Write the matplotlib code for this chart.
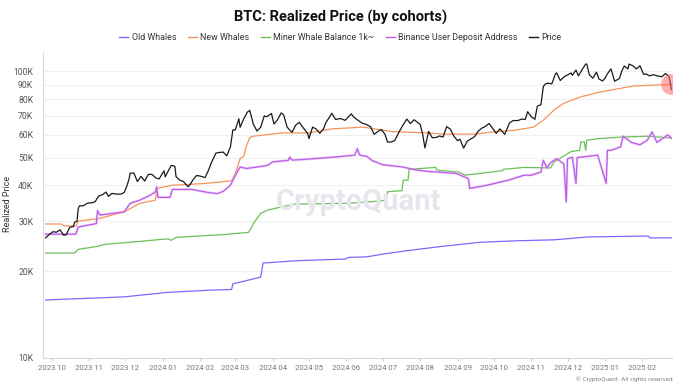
import pandas as pd
import matplotlib
matplotlib.use("Agg")
import matplotlib.pyplot as plt
import matplotlib.dates as mdates
from matplotlib.ticker import NullLocator

plt.rcParams['font.family'] = ['Roboto', 'DejaVu Sans']

# ---- data ----
price_dates = [
    "2023-09-26", "2023-09-29", "2023-10-02", "2023-10-05", "2023-10-08", "2023-10-11", "2023-10-13",
    "2023-10-16", "2023-10-19", "2023-10-20", "2023-10-22", "2023-10-23", "2023-10-24", "2023-10-27",
    "2023-10-31", "2023-11-03", "2023-11-06", "2023-11-09", "2023-11-12", "2023-11-15", "2023-11-17",
    "2023-11-20", "2023-11-23", "2023-11-27", "2023-11-30", "2023-12-02", "2023-12-04", "2023-12-05",
    "2023-12-08", "2023-12-11", "2023-12-14", "2023-12-17", "2023-12-20", "2023-12-23", "2023-12-26",
    "2023-12-29", "2024-01-02", "2024-01-03", "2024-01-08", "2024-01-11", "2024-01-12", "2024-01-15",
    "2024-01-18", "2024-01-22", "2024-01-23", "2024-01-26", "2024-01-29", "2024-02-01", "2024-02-05",
    "2024-02-08", "2024-02-10", "2024-02-14", "2024-02-17", "2024-02-20", "2024-02-23", "2024-02-26",
    "2024-02-28", "2024-03-01", "2024-03-04", "2024-03-05", "2024-03-08", "2024-03-11", "2024-03-13",
    "2024-03-16", "2024-03-19", "2024-03-22", "2024-03-25", "2024-03-27", "2024-03-31", "2024-04-02",
    "2024-04-05", "2024-04-08", "2024-04-10", "2024-04-13", "2024-04-17", "2024-04-20", "2024-04-23",
    "2024-04-26", "2024-04-30", "2024-05-01", "2024-05-04", "2024-05-07", "2024-05-10", "2024-05-13",
    "2024-05-15", "2024-05-20", "2024-05-23", "2024-05-27", "2024-05-31", "2024-06-05", "2024-06-07",
    "2024-06-11", "2024-06-14", "2024-06-18", "2024-06-21", "2024-06-24", "2024-06-27", "2024-06-30",
    "2024-07-03", "2024-07-05", "2024-07-08", "2024-07-11", "2024-07-14", "2024-07-17", "2024-07-21",
    "2024-07-24", "2024-07-27", "2024-07-29", "2024-08-01", "2024-08-03", "2024-08-05", "2024-08-08",
    "2024-08-11", "2024-08-14", "2024-08-17", "2024-08-20", "2024-08-23", "2024-08-26", "2024-08-29",
    "2024-09-01", "2024-09-03", "2024-09-06", "2024-09-09", "2024-09-12", "2024-09-15", "2024-09-18",
    "2024-09-21", "2024-09-24", "2024-09-27", "2024-09-30", "2024-10-03", "2024-10-06", "2024-10-10",
    "2024-10-14", "2024-10-17", "2024-10-21", "2024-10-24", "2024-10-27", "2024-10-29", "2024-11-01",
    "2024-11-04", "2024-11-06", "2024-11-09", "2024-11-11", "2024-11-13", "2024-11-15", "2024-11-18",
    "2024-11-21", "2024-11-22", "2024-11-25", "2024-11-28", "2024-12-01", "2024-12-04", "2024-12-05",
    "2024-12-08", "2024-12-10", "2024-12-13", "2024-12-16", "2024-12-17", "2024-12-19", "2024-12-22",
    "2024-12-25", "2024-12-27", "2024-12-30", "2025-01-01", "2025-01-03", "2025-01-06", "2025-01-09",
    "2025-01-13", "2025-01-15", "2025-01-17", "2025-01-20", "2025-01-21", "2025-01-24", "2025-01-27",
    "2025-01-30", "2025-02-02", "2025-02-04", "2025-02-07", "2025-02-10", "2025-02-13", "2025-02-17",
    "2025-02-20", "2025-02-23", "2025-02-24", "2025-02-25",
]
price_values = [
    26220, 26910, 27530, 27430, 27940, 26760, 26860,
    28520, 28720, 29680, 29990, 33090, 33920, 33920,
    34670, 34730, 35050, 36700, 37070, 37880, 36600,
    37480, 37290, 37250, 37720, 39460, 41980, 44080,
    44200, 41240, 43020, 41380, 43650, 43720, 42520,
    42100, 44950, 42850, 46970, 46630, 42850, 41730,
    41270, 39540, 39900, 41820, 43300, 43080, 42580,
    45290, 47770, 51840, 52120, 52270, 50730, 54520,
    62500, 62440, 68330, 63800, 68300, 72100, 73100,
    65300, 61900, 63800, 69950, 69450, 71300, 65500,
    67840, 71630, 70600, 63800, 61280, 64930, 66400,
    63750, 60640, 58250, 63900, 62890, 60790, 62900,
    66250, 71450, 67930, 68500, 67490, 71080, 69350,
    67320, 66010, 65150, 64100, 60280, 61680, 62670,
    60200, 56660, 56700, 57340, 60790, 64100, 68170,
    65780, 67810, 66820, 65350, 60690, 54020, 61710,
    58710, 58740, 59480, 59010, 64180, 62880, 59370,
    57300, 57970, 53960, 57050, 58130, 59130, 61760,
    63350, 64260, 65790, 63330, 60750, 63000, 60280,
    66080, 67370, 67370, 68170, 67940, 72340, 69480,
    68010, 75640, 76510, 88700, 90580, 91060, 90460,
    98010, 98920, 93000, 95640, 97280, 98800, 96980,
    101180, 96500, 101400, 106100, 106140, 97490, 94700,
    99430, 94170, 92640, 94590, 98100, 102100, 92460,
    94520, 100500, 104460, 102010, 106150, 104710, 102080,
    104700, 97690, 98000, 96540, 97440, 96600, 95770,
    98350, 96130, 91430, 86500,
]

new_whale_dates = [
    "2023-09-26", "2023-10-09", "2023-10-11", "2023-10-21", "2023-10-23", "2023-11-09", "2023-11-30",
    "2023-12-13", "2023-12-26", "2023-12-27", "2024-01-09", "2024-02-05", "2024-02-27", "2024-03-01",
    "2024-03-05", "2024-03-08", "2024-03-10", "2024-03-13", "2024-03-16", "2024-04-09", "2024-05-01",
    "2024-05-20", "2024-06-15", "2024-07-09", "2024-08-06", "2024-08-20", "2024-09-16", "2024-09-30",
    "2024-10-18", "2024-11-03", "2024-11-11", "2024-11-20", "2024-11-28", "2024-12-12", "2024-12-26",
    "2025-01-09", "2025-01-25", "2025-02-25",
]
new_whale_values = [
    29300, 29300, 28900, 28800, 30000, 30600, 32300,
    34600, 35500, 39000, 40000, 40600, 41500, 44000,
    49600, 50500, 54500, 58800, 59400, 61000, 61000,
    63000, 63900, 61600, 61000, 60400, 60400, 61500,
    62300, 63900, 67600, 73400, 77500, 81500, 84400,
    86600, 89000, 90100,
]

miner_dates = [
    "2023-09-26", "2023-10-20", "2023-10-23", "2023-11-06", "2023-11-15", "2023-12-10", "2024-01-05",
    "2024-01-08", "2024-01-12", "2024-02-06", "2024-02-20", "2024-03-12", "2024-03-14", "2024-03-16",
    "2024-03-22", "2024-03-28", "2024-04-08", "2024-04-19", "2024-05-31", "2024-06-20", "2024-07-04",
    "2024-07-05", "2024-07-17", "2024-07-18", "2024-07-22", "2024-07-23", "2024-08-14", "2024-08-15",
    "2024-09-02", "2024-09-07", "2024-09-25", "2024-10-08", "2024-10-09", "2024-10-26", "2024-11-17",
    "2024-11-20", "2024-12-04", "2024-12-11", "2024-12-12", "2024-12-15", "2024-12-16", "2024-12-17",
    "2024-12-26", "2025-01-15", "2025-02-06", "2025-02-25",
]
miner_values = [
    23200, 23200, 23900, 24400, 24900, 25400, 26000,
    25700, 26300, 26700, 26900, 27400, 28300, 29400,
    31900, 32800, 33600, 34400, 34600, 35000, 35500,
    38000, 38300, 41700, 41700, 45500, 46200, 45200,
    44500, 43400, 44300, 45000, 45500, 46200, 46000,
    48300, 52500, 53000, 56700, 56700, 53000, 57500,
    58200, 59000, 59400, 58500,
]

old_whale_dates = [
    "2023-09-26", "2023-11-30", "2024-01-05", "2024-02-08", "2024-02-27", "2024-02-28", "2024-03-22",
    "2024-03-24", "2024-04-20", "2024-05-31", "2024-06-03", "2024-06-18", "2024-07-01", "2024-07-20",
    "2024-08-20", "2024-09-20", "2024-10-20", "2024-11-20", "2024-12-18", "2025-02-06", "2025-02-07",
    "2025-02-25",
]
old_whale_values = [
    15900, 16300, 16900, 17200, 17300, 18100, 19100,
    21400, 21800, 22100, 22400, 22500, 23000, 23600,
    24500, 25300, 25600, 25800, 26400, 26600, 26200,
    26200,
]

binance_dates = [
    "2023-09-26", "2023-10-21", "2023-10-23", "2023-11-07", "2023-11-08", "2023-11-10", "2023-11-30",
    "2023-12-05", "2023-12-13", "2023-12-22", "2023-12-26", "2023-12-27", "2023-12-28", "2024-01-07",
    "2024-01-09", "2024-01-25", "2024-02-07", "2024-02-15", "2024-02-20", "2024-02-26", "2024-02-28",
    "2024-03-05", "2024-03-10", "2024-03-20", "2024-03-28", "2024-04-01", "2024-04-14", "2024-04-15",
    "2024-04-17", "2024-04-25", "2024-05-22", "2024-06-08", "2024-06-10", "2024-06-12", "2024-06-18",
    "2024-06-22", "2024-07-01", "2024-07-17", "2024-07-27", "2024-08-06", "2024-08-31", "2024-09-10",
    "2024-09-11", "2024-09-25", "2024-10-14", "2024-10-26", "2024-11-01", "2024-11-09", "2024-11-11",
    "2024-11-14", "2024-11-17", "2024-11-22", "2024-11-28", "2024-11-30", "2024-12-01", "2024-12-05",
    "2024-12-08", "2024-12-09", "2024-12-12", "2024-12-26", "2025-01-02", "2025-01-03", "2025-01-06",
    "2025-01-14", "2025-01-16", "2025-01-23", "2025-01-30", "2025-02-05", "2025-02-09", "2025-02-13",
    "2025-02-22", "2025-02-25",
]
binance_values = [
    27000, 27000, 28600, 29400, 32600, 31500, 32300,
    34600, 35500, 37000, 38000, 39500, 36300, 36300,
    38700, 38700, 37800, 37400, 38100, 40000, 41700,
    46400, 45800, 46400, 47000, 48300, 48900, 50200,
    49000, 49200, 50200, 51000, 53700, 51000, 50500,
    48900, 47200, 46400, 45400, 44800, 44000, 42200,
    39000, 40000, 41800, 43400, 43400, 44500, 48900,
    46000, 48000, 49600, 47500, 35000, 49500, 50200,
    40600, 50000, 50200, 51000, 40600, 53000, 53000,
    54500, 59400, 56500, 55400, 57500, 61500, 56500,
    60000, 58500,
]

month_ticks = pd.date_range("2023-10-01", "2025-02-01", freq="MS")
y_ticks = [10000, 20000, 30000, 40000, 50000, 60000, 70000, 80000, 90000, 100000]
y_labels = ["10K", "20K", "30K", "40K", "50K", "60K", "70K", "80K", "90K", "100K"]

# ---- plot ----
fig = plt.figure(figsize=(6.81, 3.87), dpi=100)
ax = fig.add_axes([0.0631, 0.076, 0.9237, 0.787])

pd_dates = lambda d: pd.to_datetime(d)

# watermark
fig.text(0.526, 0.478, "CryptoQuant", fontsize=21, fontweight="bold",
         color="#e6e6ec", ha="center", va="center", zorder=0)

ax.plot(pd_dates(old_whale_dates), old_whale_values, color="#7d68ff", lw=0.9, label="Old Whales")
ax.plot(pd_dates(new_whale_dates), new_whale_values, color="#f7925a", lw=0.9, label="New Whales")
ax.plot(pd_dates(miner_dates), miner_values, color="#6cbf58", lw=0.9, label="Miner Whale Balance 1k~")
ax.plot(pd_dates(binance_dates), binance_values, color="#dcb3f3", lw=1.8, alpha=0.55)
ax.plot(pd_dates(binance_dates), binance_values, color="#bf5be8", lw=0.9, label="Binance User Deposit Address")
ax.plot(pd_dates(price_dates), price_values, color="#1a1a1a", lw=0.9, label="Price")

# highlight marker at the last New Whales value
ax.plot(pd_dates(new_whale_dates[-1:]), new_whale_values[-1:], "o", ms=15,
        color="#ff6e6e", alpha=0.55, mec="none")

ax.set_yscale("log")
ax.set_ylim(10000, 116000)
ax.set_yticks(y_ticks)
ax.set_yticklabels(y_labels)
ax.yaxis.set_minor_locator(NullLocator())
ax.set_xlim(pd.Timestamp("2023-09-23 20:00"), pd.Timestamp("2025-02-25 12:00"))
ax.set_xticks(month_ticks)
ax.xaxis.set_major_formatter(mdates.DateFormatter("%Y %m"))

ax.tick_params(axis="y", length=0, labelsize=6.2, labelcolor="#555555", pad=7)
ax.tick_params(axis="x", length=2.5, color="#d0d0d0", labelsize=5.6, labelcolor="#777777", pad=3)
ax.grid(axis="y", color="#f0f0f0", lw=0.8)
ax.set_axisbelow(True)
for s in ["top", "right"]:
    ax.spines[s].set_visible(False)
for s in ["left", "bottom"]:
    ax.spines[s].set_color("#d8d8d8")
    ax.spines[s].set_linewidth(0.8)

fig.text(0.5, 0.956, "BTC: Realized Price (by cohorts)", ha="center", va="center",
         fontsize=10.5, fontweight="bold", color="#111111")
fig.text(0.011, 0.473, "Realized Price", rotation=90, ha="center", va="center",
         fontsize=6.5, color="#333333")
fig.text(0.987, 0.02, "\u00a9 CryptoQuant. All rights reserved", ha="right", va="center",
         fontsize=4.6, color="#888888")

leg = fig.legend(loc="center", bbox_to_anchor=(0.5, 0.904), ncol=5, frameon=False,
                 fontsize=6.4, handlelength=1.0, handletextpad=0.4, columnspacing=1.3,
                 labelcolor="#333333")
for line in leg.get_lines():
    line.set_linewidth(1.0)

fig.savefig("out.png", dpi=100)
